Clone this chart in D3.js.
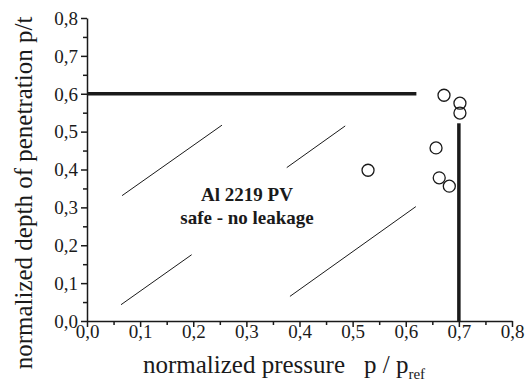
<!DOCTYPE html>
<html>
<head>
<script src="https://d3js.org/d3.v7.min.js"></script>
<style>
  body { margin: 0; background: #fff; }
</style>
</head>
<body>
<div id="chart"></div>
<script>
// measured points (normalized pressure, normalized depth)
const pressure = [0.672, 0.702, 0.702, 0.657, 0.529, 0.663, 0.682];
const depth    = [0.596, 0.575, 0.549, 0.457, 0.398, 0.378, 0.356];

// thick boundary lines
const depthLimit = [[0, 0.6], [0.62, 0.6]];
const pressureLimit = [[0.7, 0], [0.7, 0.522]];

// thin hatch lines of the safe region
const hatches = [
  [[0.064, 0.043], [0.197, 0.175]],
  [[0.066, 0.331], [0.254, 0.517]],
  [[0.376, 0.405], [0.486, 0.515]],
  [[0.382, 0.065], [0.619, 0.302]]
];

const xTicks = [0, 0.1, 0.2, 0.3, 0.4, 0.5, 0.6, 0.7, 0.8];
const yTicks = [0, 0.1, 0.2, 0.3, 0.4, 0.5, 0.6, 0.7, 0.8];
const minorTicks = [0.05, 0.15, 0.25, 0.35, 0.45, 0.55, 0.65, 0.75];

const width = 528, height = 388;
const serif = "'Liberation Serif', 'DejaVu Serif', serif";
const ink = "#1a1a1a";

const svg = d3.select("#chart").append("svg")
  .attr("width", width).attr("height", height);

const x = d3.scaleLinear().domain([0, 0.8]).range([87, 512]);
const y = d3.scaleLinear().domain([0, 0.8]).range([321, 18]);
const fmt = d => d3.format(".1f")(d).replace(".", ",");

// axes
const xAxis = svg.append("g").attr("transform", "translate(0,321)")
  .call(d3.axisBottom(x).tickValues(xTicks).tickFormat(fmt).tickSize(6).tickSizeOuter(0));
const yAxis = svg.append("g").attr("transform", "translate(87,0)")
  .call(d3.axisLeft(y).tickValues(yTicks).tickFormat(fmt).tickSize(6).tickSizeOuter(0));

svg.append("g").attr("transform", "translate(0,321)")
  .call(d3.axisBottom(x).tickValues(minorTicks).tickFormat("").tickSize(4))
  .select(".domain").remove();
svg.append("g").attr("transform", "translate(87,0)")
  .call(d3.axisLeft(y).tickValues(minorTicks).tickFormat("").tickSize(4))
  .select(".domain").remove();

svg.selectAll(".domain, .tick line").attr("stroke", ink).attr("stroke-width", 1.5);
xAxis.selectAll("text").attr("font-size", 19).attr("y", 17).attr("dy", 0);
yAxis.selectAll("text").attr("font-size", 19).attr("x", -9).attr("dy", "0.33em");

const line = d3.line().x(d => x(d[0])).y(d => y(d[1]));

svg.selectAll("path.hatch").data(hatches).join("path")
  .attr("class", "hatch")
  .attr("d", line).attr("fill", "none")
  .attr("stroke", ink).attr("stroke-width", 1);

[depthLimit, pressureLimit].forEach(seg => {
  svg.append("path").attr("d", line(seg))
    .attr("fill", "none").attr("stroke", ink).attr("stroke-width", 3.5);
});

svg.selectAll("circle.pt").data(pressure).join("circle")
  .attr("class", "pt")
  .attr("cx", d => x(d)).attr("cy", (d, i) => y(depth[i]))
  .attr("r", 6).attr("fill", "none")
  .attr("stroke", ink).attr("stroke-width", 1.3);

// region label
svg.append("text").attr("x", 247).attr("y", 201).attr("text-anchor", "middle")
  .attr("font-size", 19).attr("font-weight", "bold").text("Al 2219 PV");
svg.append("text").attr("x", 247).attr("y", 224).attr("text-anchor", "middle")
  .attr("font-size", 19).attr("font-weight", "bold").text("safe - no leakage");

// axis titles
const xt = svg.append("text").attr("x", 143).attr("y", 373).attr("font-size", 25);
xt.append("tspan").text("normalized pressure");
xt.append("tspan").attr("x", 364).text("p / p");
xt.append("tspan").attr("dy", 6).attr("font-size", 15).text("ref");

svg.append("text")
  .attr("transform", "translate(32,193) rotate(-90)")
  .attr("text-anchor", "middle").attr("font-size", 25)
  .text("normalized depth of penetration p/t");

svg.selectAll("text").style("font-family", serif).attr("fill", ink);
</script>
</body>
</html>
